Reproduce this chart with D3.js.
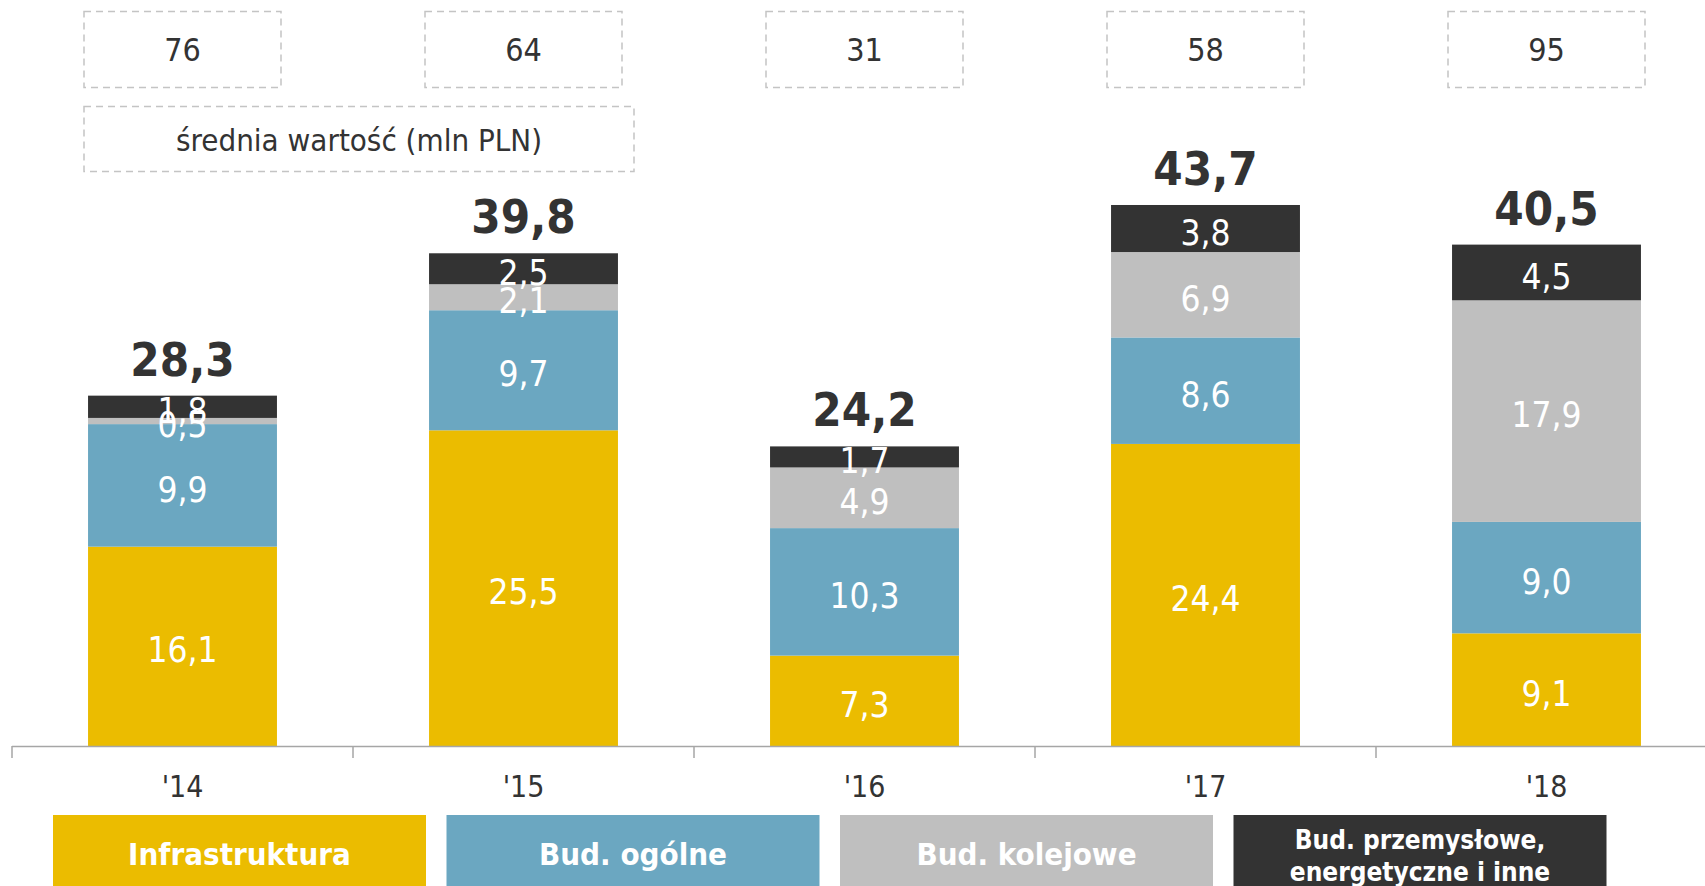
<!DOCTYPE html>
<html lang="pl">
    <head>
        <meta charset="utf-8">
        <title>Struktura portfela</title>
        <script type="text/javascript" src="https://cdn.jsdelivr.net/npm/d3@7"></script>
        <style type="text/css">
            body { margin: 0; background: #fff; }
            svg text { font-family: "DejaVu Sans Condensed", "DejaVu Sans", sans-serif; font-stretch: condensed; }
        </style>
    </head>
    <body>
        <script type="text/javascript">
            var w = 1705;
            var h = 886;

            // Data
            var years = ["'14", "'15", "'16", "'17", "'18"];
            var infrastruktura = [16.1, 25.5, 7.3, 24.4, 9.1];
            var ogolne = [9.9, 9.7, 10.3, 8.6, 9.0];
            var kolejowe = [0.5, 2.1, 4.9, 6.9, 17.9];
            var przemyslowe = [1.8, 2.5, 1.7, 3.8, 4.5];
            var totals = [28.3, 39.8, 24.2, 43.7, 40.5];
            var avgValues = [76, 64, 31, 58, 95];
            var seriesNames = ["Infrastruktura", "Bud. ogólne", "Bud. kolejowe", "Bud. przemysłowe, energetyczne i inne"];
            var colors = ["#ebbc00", "#6ba7c1", "#bfbfbf", "#333333"];

            var series = [infrastruktura, ogolne, kolejowe, przemyslowe];
            var table = years.map(function(y, i) {
                return { year: y, s0: series[0][i], s1: series[1][i], s2: series[2][i], s3: series[3][i], total: totals[i], avg: avgValues[i] };
            });

            var axisY = 746;
            var xScale = d3.scaleBand()
                .domain(years)
                .range([12, 12 + 5 * 341])
                .paddingInner(0.446)
                .paddingOuter(0.223);

            var yScale = d3.scaleLinear()
                .domain([0, 45])
                .range([axisY, axisY - 45 * 12.38]);

            var svg = d3.select("body")
                .append("svg")
                .attr("width", w)
                .attr("height", h);

            var stack = d3.stack().keys(["s0", "s1", "s2", "s3"]);
            var stacked = stack(table);

            // bars
            var layers = svg.selectAll("g.layer")
                .data(stacked)
                .enter()
                .append("g")
                .attr("class", "layer")
                .attr("fill", function(d, i) { return colors[i]; });

            layers.selectAll("rect")
                .data(function(d) { return d; })
                .enter()
                .append("rect")
                .attr("x", function(d) { return xScale(d.data.year); })
                .attr("y", function(d) { return yScale(d[1]); })
                .attr("width", xScale.bandwidth())
                .attr("height", function(d) { return yScale(d[0]) - yScale(d[1]); });

            // segment labels
            stacked.forEach(function(layer) {
                svg.selectAll(null)
                    .data(layer)
                    .enter()
                    .append("text")
                    .text(function(d) { return (d[1] - d[0]).toFixed(1).replace(".", ","); })
                    .attr("x", function(d) { return xScale(d.data.year) + xScale.bandwidth() / 2; })
                    .attr("y", function(d) { return (yScale(d[0]) + yScale(d[1])) / 2; })
                    .attr("dy", "0.46em")
                    .attr("text-anchor", "middle")
                    .attr("font-size", "35px")
                    .attr("fill", "#fff");
            });

            // totals
            svg.selectAll("text.total")
                .data(table)
                .enter()
                .append("text")
                .attr("class", "total")
                .text(function(d) { return d.total.toFixed(1).replace(".", ","); })
                .attr("x", function(d) { return xScale(d.year) + xScale.bandwidth() / 2; })
                .attr("y", function(d) { return yScale(d.total) - 20; })
                .attr("text-anchor", "middle")
                .attr("font-size", "47px")
                .attr("font-weight", "bold")
                .attr("fill", "#333");

            // x axis
            var xAxis = d3.axisBottom(xScale).tickSize(0).tickPadding(30);
            var gx = svg.append("g")
                .attr("transform", "translate(0," + axisY + ")")
                .call(xAxis);
            gx.select(".domain").remove();
            gx.selectAll("text")
                .attr("font-size", "30px")
                .attr("font-family", null)
                .attr("fill", "#333");

            svg.append("line")
                .attr("x1", xScale.range()[0])
                .attr("x2", w)
                .attr("y1", axisY + 0.5)
                .attr("y2", axisY + 0.5)
                .attr("stroke", "#a6a6a6")
                .attr("stroke-width", 1.5);

            svg.selectAll("line.tick-b")
                .data(d3.range(years.length))
                .enter()
                .append("line")
                .attr("class", "tick-b")
                .attr("x1", function(i) { return xScale.range()[0] + i * xScale.step(); })
                .attr("x2", function(i) { return xScale.range()[0] + i * xScale.step(); })
                .attr("y1", axisY)
                .attr("y2", axisY + 12)
                .attr("stroke", "#a6a6a6")
                .attr("stroke-width", 1.5);

            // average value boxes
            var boxW = 197;
            svg.selectAll("rect.avg")
                .data(table)
                .enter()
                .append("rect")
                .attr("class", "avg")
                .attr("x", function(d) { return xScale(d.year) + xScale.bandwidth() / 2 - boxW / 2; })
                .attr("y", 11.5)
                .attr("width", boxW)
                .attr("height", 76)
                .attr("fill", "none")
                .attr("stroke", "#c4c4c4")
                .attr("stroke-width", 1.5)
                .attr("stroke-dasharray", "7,5");

            svg.selectAll("text.avg")
                .data(table)
                .enter()
                .append("text")
                .attr("class", "avg")
                .text(function(d) { return d.avg; })
                .attr("x", function(d) { return xScale(d.year) + xScale.bandwidth() / 2; })
                .attr("y", 61)
                .attr("text-anchor", "middle")
                .attr("font-size", "32px")
                .attr("fill", "#333");

            var x0 = xScale(years[0]) + xScale.bandwidth() / 2 - boxW / 2;
            svg.append("rect")
                .attr("x", x0)
                .attr("y", 106.5)
                .attr("width", 550)
                .attr("height", 65)
                .attr("fill", "none")
                .attr("stroke", "#c4c4c4")
                .attr("stroke-width", 1.5)
                .attr("stroke-dasharray", "7,5");
            svg.append("text")
                .text("średnia wartość (mln PLN)")
                .attr("x", x0 + 275)
                .attr("y", 151)
                .attr("text-anchor", "middle")
                .attr("font-size", "31px")
                .attr("fill", "#333");

            // legend
            var legW = 373, legStep = 393.5, legX = 53, legY = 815;
            var leg = svg.selectAll("g.legend")
                .data(seriesNames)
                .enter()
                .append("g")
                .attr("class", "legend")
                .attr("transform", function(d, i) { return "translate(" + (legX + i * legStep) + "," + legY + ")"; });

            leg.append("rect")
                .attr("width", legW)
                .attr("height", 71)
                .attr("fill", function(d, i) { return colors[i]; });

            leg.each(function(d, i) {
                var g = d3.select(this);
                if (i < 3) {
                    g.append("text")
                        .text(d)
                        .attr("x", legW / 2)
                        .attr("y", 50)
                        .attr("text-anchor", "middle")
                        .attr("font-size", "31px")
                        .attr("font-weight", "bold")
                        .attr("fill", "#fff");
                } else {
                    var lines = ["Bud. przemysłowe,", "energetyczne i inne"];
                    g.selectAll("text")
                        .data(lines)
                        .enter()
                        .append("text")
                        .text(function(t) { return t; })
                        .attr("x", legW / 2)
                        .attr("y", function(t, k) { return 34 + k * 31.5; })
                        .attr("text-anchor", "middle")
                        .attr("font-size", "26px")
                        .attr("font-weight", "bold")
                        .attr("fill", "#fff");
                }
            });
        </script>
    </body>
</html>
